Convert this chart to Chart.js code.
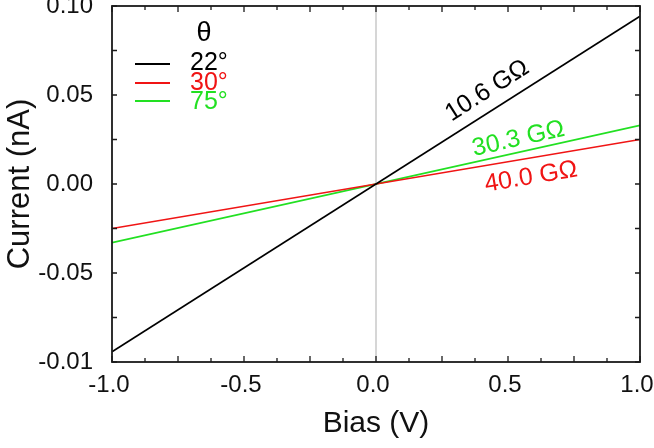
<!DOCTYPE html>
<html lang="en">
<head>
  <meta charset="UTF-8">
  <title>Current vs Bias</title>
  <script src="https://cdn.jsdelivr.net/npm/chart.js@4.4.0/dist/chart.umd.min.js"></script>
  <style>
    html, body { margin: 0; padding: 0; background: #fff; }
    #wrap { width: 654px; height: 448px; }
  </style>
</head>
<body>
<div id="wrap"><canvas id="ivChart" width="654" height="448"></canvas></div>

<script>
  // data
  const bias = [-1.0, 1.0];
  const current22 = [-0.0943, 0.0943];
  const current30 = [-0.025, 0.025];
  const current75 = [-0.033, 0.033];

  const xTickValues = [-1.0, -0.5, 0.0, 0.5, 1.0];
  const xTickText = ['-1.0', '-0.5', '0.0', '0.5', '1.0'];
  const yTickValues = [-0.1, -0.05, 0.0, 0.05, 0.1];
  const yTickText = ['-0.01', '-0.05', '0.00', '0.05', '0.10'];

  const legendTitle = 'θ';
  const legendText = ['22°', '30°', '75°'];
  const resistText = ['10.6 GΩ', '40.0 GΩ', '30.3 GΩ'];

  const colors = ['#000000', '#f01414', '#22e022'];
  const FONT = "'Liberation Sans', Arial, sans-serif";

  const points = (ys) => bias.map((x, i) => ({ x: x, y: ys[i] }));

  // gray line at zero bias
  const zeroLine = {
    id: 'zeroLine',
    beforeDatasetsDraw(chart) {
      const { ctx, chartArea, scales } = chart;
      const x = scales.x.getPixelForValue(0);
      ctx.save();
      ctx.strokeStyle = '#c8c8c8';
      ctx.lineWidth = 1.5;
      ctx.beginPath();
      ctx.moveTo(x, chartArea.top);
      ctx.lineTo(x, chartArea.bottom);
      ctx.stroke();
      ctx.restore();
    }
  };

  // box + inward ticks on all four sides
  const frame = {
    id: 'frame',
    afterDatasetsDraw(chart) {
      const { ctx, chartArea: a, scales } = chart;
      ctx.save();
      ctx.strokeStyle = '#1a1a1a';
      ctx.lineWidth = 1.8;
      ctx.strokeRect(a.left, a.top, a.right - a.left, a.bottom - a.top);
      ctx.lineWidth = 1.3;
      ctx.beginPath();
      for (let k = -8; k <= 8; k++) {
        const x = scales.x.getPixelForValue(k * 0.125);
        const len = (k % 2 === 0) ? 6 : 4;
        ctx.moveTo(x, a.bottom); ctx.lineTo(x, a.bottom - len);
        ctx.moveTo(x, a.top); ctx.lineTo(x, a.top + len);
      }
      for (let k = -4; k <= 4; k++) {
        const y = scales.y.getPixelForValue(k * 0.025);
        ctx.moveTo(a.left, y); ctx.lineTo(a.left + 5, y);
        ctx.moveTo(a.right, y); ctx.lineTo(a.right - 5, y);
      }
      ctx.stroke();
      ctx.restore();
    }
  };

  // resistance labels laid along each line
  const lineLabels = {
    id: 'lineLabels',
    afterDatasetsDraw(chart) {
      const { ctx, scales } = chart;
      const spots = [
        { ds: 0, at: 0.46, off: -19 },
        { ds: 1, at: 0.575, off: 19 },
        { ds: 2, at: 0.55, off: -13 }
      ];
      ctx.font = '25px ' + FONT;
      ctx.textAlign = 'center';
      ctx.textBaseline = 'middle';
      spots.forEach(s => {
        const d = chart.data.datasets[s.ds].data;
        const x0 = scales.x.getPixelForValue(d[0].x), y0 = scales.y.getPixelForValue(d[0].y);
        const x1 = scales.x.getPixelForValue(d[1].x), y1 = scales.y.getPixelForValue(d[1].y);
        const ang = Math.atan2(y1 - y0, x1 - x0);
        const slope = (d[1].y - d[0].y) / (d[1].x - d[0].x);
        const px = scales.x.getPixelForValue(s.at);
        const py = scales.y.getPixelForValue(d[0].y + slope * (s.at - d[0].x));
        ctx.save();
        ctx.translate(px, py);
        ctx.rotate(ang);
        ctx.fillStyle = colors[s.ds];
        ctx.fillText(resistText[s.ds], 0, s.off);
        ctx.restore();
      });
    }
  };

  // legend in the upper left corner
  const thetaLegend = {
    id: 'thetaLegend',
    afterDatasetsDraw(chart) {
      const { ctx, chartArea: a } = chart;
      ctx.save();
      ctx.textBaseline = 'middle';
      ctx.textAlign = 'center';
      ctx.fillStyle = '#000';
      ctx.font = '27px ' + FONT;
      ctx.fillText(legendTitle, a.left + 92, a.top + 28);
      ctx.font = '25px ' + FONT;
      ctx.textAlign = 'left';
      const rows = [a.top + 57, a.top + 77, a.top + 96];
      legendText.forEach((t, i) => {
        ctx.strokeStyle = colors[i];
        ctx.lineWidth = 1.8;
        ctx.beginPath();
        ctx.moveTo(a.left + 23, a.top + [58, 77, 95][i]);
        ctx.lineTo(a.left + 58, a.top + [58, 77, 95][i]);
        ctx.stroke();
        ctx.fillStyle = colors[i];
        ctx.fillText(t, a.left + 78, rows[i]);
      });
      ctx.restore();
    }
  };

  new Chart(document.getElementById('ivChart'), {
    type: 'scatter',
    data: {
      datasets: [
        { data: points(current22), borderColor: colors[0] },
        { data: points(current30), borderColor: colors[1] },
        { data: points(current75), borderColor: colors[2] }
      ].map(d => Object.assign(d, { showLine: true, borderWidth: 1.7, pointRadius: 0, fill: false }))
    },
    options: {
      responsive: false,
      animation: false,
      layout: { padding: { top: 6, right: 14, left: 2, bottom: 6 } },
      plugins: { legend: { display: false }, tooltip: { enabled: false } },
      scales: {
        x: {
          type: 'linear', min: -1, max: 1,
          grid: { display: false, drawTicks: false },
          border: { display: false },
          afterBuildTicks: s => { s.ticks = xTickValues.map(v => ({ value: v })); },
          afterFit: s => { s.height = 80; s.paddingLeft = 0; s.paddingRight = 0; },
          ticks: {
            padding: 9, maxRotation: 0, color: '#111', labelOffset: -3,
            font: { family: FONT, size: 24 },
            callback: (v, i) => xTickText[i]
          },
          title: { display: true, text: 'Bias (V)', color: '#111', padding: 0, font: { family: FONT, size: 30 } }
        },
        y: {
          type: 'linear', min: -0.1, max: 0.1,
          grid: { display: false, drawTicks: false },
          border: { display: false },
          afterBuildTicks: s => { s.ticks = yTickValues.map(v => ({ value: v })); },
          afterFit: s => { s.width = 110; s.paddingTop = 0; s.paddingBottom = 0; },
          ticks: {
            padding: 19, color: '#111',
            font: { family: FONT, size: 24 },
            callback: (v, i) => yTickText[i]
          },
          title: { display: true, text: 'Current (nA)', color: '#111', padding: 0, font: { family: FONT, size: 31 } }
        }
      }
    },
    plugins: [zeroLine, frame, lineLabels, thetaLegend]
  });
</script>
</body>
</html>
